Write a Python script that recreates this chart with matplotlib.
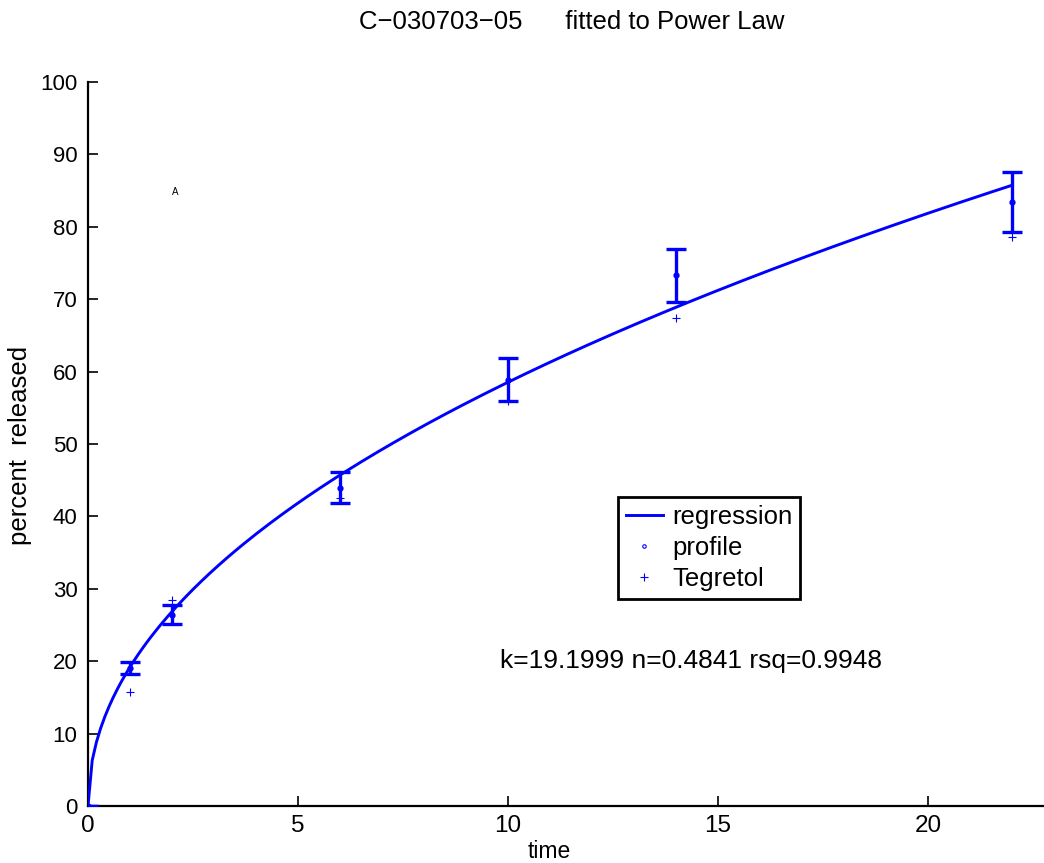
import numpy as np
import matplotlib
matplotlib.use("Agg")
import matplotlib.pyplot as plt
from matplotlib.lines import Line2D

plt.rcParams['font.family'] = ['Liberation Sans', 'DejaVu Sans']

# data
times = [0, 1, 2, 6, 10, 14, 22]
profile_mean = [0.0, 19.1, 26.4, 43.95, 58.9, 73.3, 83.4]
profile_err = [0.0, 0.85, 1.3, 2.15, 2.95, 3.65, 4.15]
tegretol = [0.0, 15.8, 28.5, 42.6, 56.0, 67.4, 78.6]
k_fit = 19.1999
n_fit = 0.4841
rsq = 0.9948
title_text = "C\u2212030703\u221205      fitted to Power Law"
xticks = [0, 5, 10, 15, 20]
yticks = [0, 10, 20, 30, 40, 50, 60, 70, 80, 90, 100]

W, H = 1044, 863
fig = plt.figure(figsize=(W / 100, H / 100), dpi=100)
ax = fig.add_axes([88 / W, (H - 806) / H, (W - 88) / W, (806 - 82) / H])

blue = '#0000ff'
t_fit = np.linspace(0, 22, 221)
ax.plot(t_fit, k_fit * t_fit ** n_fit, color=blue, lw=2.1, zorder=3)
ax.errorbar(times, profile_mean, yerr=profile_err, fmt='.', color=blue,
            ms=7, elinewidth=2.4, capsize=7, capthick=2.4, zorder=4)
ax.plot(times, tegretol, '+', color=blue, ms=6, mew=0.8, zorder=4)

ax.set_xlim(0, (W - 88) / 42.0)
ax.set_ylim(0, 100)
ax.set_xticks(xticks)
ax.set_yticks(yticks)
ax.tick_params(direction='in', length=7, width=1.2)
ax.tick_params(axis='y', labelsize=16, pad=7.5)
ax.tick_params(axis='x', labelsize=17.5, pad=6.5)
for s in ['top', 'right']:
    ax.spines[s].set_visible(False)
for s in ['left', 'bottom']:
    ax.spines[s].set_linewidth(1.6)

ax.text(2.07, 84.8, 'A', fontsize=7, ha='center', va='center')
ax.text(9.8, 20.0, f'k={k_fit} n={n_fit} rsq={rsq}', fontsize=19,
        ha='left', va='center')

fig.text(572 / W, 1 - 22 / H, title_text, fontsize=18.5, ha='center', va='center')
fig.text(549 / W, 1 - 851 / H, 'time', fontsize=16.5, ha='center', va='center')
fig.text(20 / W, 1 - 445 / H, 'percent  released', fontsize=18.5, ha='center',
         va='center', rotation=90)

handles = [Line2D([], [], color=blue, lw=2.1),
           Line2D([], [], ls='none', marker='o', ms=2.5, mfc='none', mec=blue, mew=0.8),
           Line2D([], [], ls='none', marker='+', ms=6, color=blue, mew=0.8)]
leg = ax.legend(handles, ['regression', 'profile', 'Tegretol'], fontsize=18.5,
                loc='upper left', bbox_to_anchor=((618 - 88) / (W - 88), (806 - 497) / (806 - 82)),
                frameon=True, fancybox=False, edgecolor='black', framealpha=1,
                borderpad=0.3, handlelength=1.45, handletextpad=0.35, labelspacing=0.28,
                borderaxespad=0)
leg.get_frame().set_linewidth(2)

fig.savefig('out.png', dpi=100)
